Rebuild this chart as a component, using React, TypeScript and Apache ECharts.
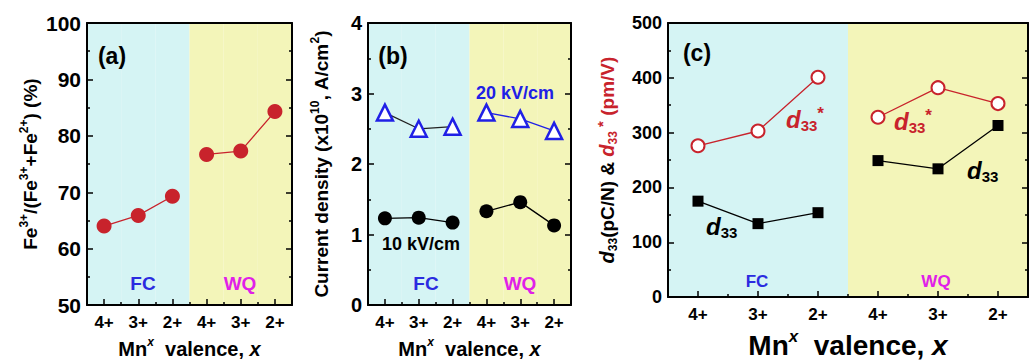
import React, { useEffect, useRef } from "react";
import * as echarts from "echarts";

const valence = ["4+", "3+", "2+", "4+", "3+", "2+"];
const feRatio = [64.0, 65.9, 69.3, 76.7, 77.3, 84.3];
const current20 = [2.73, 2.5, 2.53, 2.73, 2.64, 2.47];
const current10 = [1.23, 1.24, 1.17, 1.33, 1.46, 1.13];
const d33Star = [276, 303, 401, 328, 382, 353];
const d33 = [175, 134, 154, 249, 234, 313];

const FONT = '"Liberation Sans", Arial, sans-serif';
const CYAN = "#D5F4F4";
const YELLOW = "#F3F5B9";
const RED = "#C8232C";
const BLUE = "#2020E6";

const part = (arr: number[], start: number) =>
  arr.map((v, i) => (i >= start && i < start + 3 ? v : "-"));

const grids = [
  { left: 87, top: 23, width: 205, height: 283 },
  { left: 368, top: 23, width: 203, height: 283 },
  { left: 668, top: 23, width: 360, height: 283 },
];

function xAxesFor(g: number, nameSize: number, nameGap: number) {
  const rich = {
    n: { fontSize: nameSize, fontWeight: "bold", color: "#000", fontFamily: FONT, lineHeight: nameSize + 6 },
    s: { fontSize: Math.round(nameSize * 0.62), fontWeight: "bold", fontStyle: "italic", color: "#000", fontFamily: FONT, verticalAlign: "top", lineHeight: Math.round(nameSize * 0.62) },
    i: { fontSize: nameSize, fontWeight: "bold", fontStyle: "italic", color: "#000", fontFamily: FONT, lineHeight: nameSize + 6 },
  };
  return [
    {
      type: "category", gridIndex: g, data: valence, position: "bottom", boundaryGap: true,
      axisLine: { show: true, lineStyle: { color: "#000", width: 2 } },
      axisTick: { show: true, alignWithLabel: true, inside: true, length: 6, lineStyle: { color: "#000", width: 1.5 } },
      axisLabel: { show: true, interval: 0, fontSize: 17, fontWeight: "bold", color: "#000", fontFamily: FONT, margin: 9 },
      splitLine: { show: false },
      splitArea: { show: true, interval: 0, areaStyle: { color: [CYAN, CYAN, CYAN, YELLOW, YELLOW, YELLOW] } },
      name: "{n|Mn}{s|x}{n|  valence, }{i|x}",
      nameLocation: "middle", nameGap, nameTextStyle: { rich },
    },
    {
      type: "category", gridIndex: g, data: valence, position: "bottom", boundaryGap: true,
      axisLine: { show: false },
      axisTick: { show: true, alignWithLabel: false, inside: true, interval: 0, length: 3, lineStyle: { color: "#000", width: 1.5 } },
      axisLabel: { show: false }, splitLine: { show: false }, splitArea: { show: false },
    },
    {
      type: "category", gridIndex: g, data: valence, position: "top", boundaryGap: true,
      axisLine: { show: true, lineStyle: { color: "#000", width: 2 } },
      axisTick: { show: false }, axisLabel: { show: false }, splitLine: { show: false }, splitArea: { show: false },
    },
  ];
}

function yAxesFor(g: number, min: number, max: number, interval: number, labelSize: number, name: string, nameGap: number, rich: any) {
  const common = {
    type: "value", gridIndex: g, min, max, interval,
    axisLine: { show: true, lineStyle: { color: "#000", width: 2 } },
    axisTick: { show: true, inside: true, length: 6, lineStyle: { color: "#000", width: 1.5 } },
    minorTick: { show: true, splitNumber: 2, length: 3, lineStyle: { color: "#000", width: 1.5 } },
    splitLine: { show: false },
  };
  return [
    {
      ...common, position: "left",
      axisLabel: { show: true, fontSize: labelSize, fontWeight: "bold", color: "#000", fontFamily: FONT, margin: 6 },
      name, nameLocation: "middle", nameRotate: 90, nameGap, nameTextStyle: { rich },
    },
    { ...common, position: "right", axisLabel: { show: false } },
  ];
}

const t = (size: number, color = "#000", extra: any = {}) => ({
  fontSize: size, fontWeight: "bold", color, fontFamily: FONT, ...extra,
});

const richA = {
  n: t(19, "#000", { lineHeight: 24 }),
  s: t(12, "#000", { verticalAlign: "top", lineHeight: 12 }),
};
const richB = {
  n: t(19, "#000", { lineHeight: 24 }),
  s: t(12, "#000", { verticalAlign: "top", lineHeight: 12 }),
};
const richC = {
  n: t(19, "#000", { lineHeight: 24 }),
  i: t(20, "#000", { fontStyle: "italic", lineHeight: 24 }),
  sub: t(12, "#000", { verticalAlign: "bottom", lineHeight: 12 }),
  ri: t(20, RED, { fontStyle: "italic", lineHeight: 24 }),
  rsub: t(12, RED, { verticalAlign: "bottom", lineHeight: 12 }),
  rsup: t(15, RED, { verticalAlign: "top", lineHeight: 15 }),
  r: t(19, RED, { lineHeight: 24 }),
};

function lineSeries(g: number, data: any[], symbol: string, size: number, itemStyle: any, lineColor: string, z = 3) {
  return {
    type: "line", xAxisIndex: g * 3, yAxisIndex: g * 2, data, symbol, symbolSize: size,
    showSymbol: true, connectNulls: false, z,
    lineStyle: { color: lineColor, width: 1.3 },
    itemStyle: { ...itemStyle, opacity: 1 },
  };
}

function textEl(x: number, y: number, text: string, size: number, color: string) {
  return {
    type: "text", x, y, z: 100,
    style: { text, font: `bold ${size}px ${FONT}`, fill: color, align: "center", verticalAlign: "middle" },
  };
}

const dRich = (color: string) => ({
  d: { font: `italic bold 24px ${FONT}`, fill: color, lineHeight: 28 },
  sub: { font: `bold 15px ${FONT}`, fill: color, verticalAlign: "bottom", lineHeight: 15 },
  sup: { font: `bold 17px ${FONT}`, fill: color, verticalAlign: "top", lineHeight: 17 },
});

function dLabel(x: number, y: number, color: string, star: boolean) {
  return {
    type: "text", x, y, z: 100,
    style: {
      text: star ? "{d|d}{sub|33}{sup|*}" : "{d|d}{sub|33}",
      rich: dRich(color), align: "left", verticalAlign: "middle",
    },
  };
}

export default function App() {
  const ref = useRef<HTMLDivElement>(null);
  useEffect(() => {
    if (!ref.current) return;
    const chart = echarts.init(ref.current, null, { renderer: "svg" });
    const option: any = {
      animation: false,
      backgroundColor: "#fff",
      grid: grids,
      xAxis: [...xAxesFor(0, 20, 30), ...xAxesFor(1, 20, 30), ...xAxesFor(2, 28, 24)],
      yAxis: [
        ...yAxesFor(0, 50, 100, 10, 21, "{n|Fe}{s|3+}{n|/(Fe}{s|3+}{n|+Fe}{s|2+}{n|) (%)}", 45, richA),
        ...yAxesFor(1, 0, 4, 1, 20, "{n|Current density (x10}{s|10}{n|, A/cm}{s|2}{n|)}", 35, richB),
        ...yAxesFor(2, 0, 500, 100, 18, "{i|d}{sub|33}{n|(pC/N) & }{ri|d}{rsub|33}{rsup| *}{r| (pm/V)}", 49, richC),
      ],
      series: [
        lineSeries(0, part(feRatio, 0), "circle", 15, { color: RED }, RED),
        lineSeries(0, part(feRatio, 3), "circle", 15, { color: RED }, RED),
        lineSeries(1, part(current20, 0), "triangle", 16, { color: "#fff", borderColor: BLUE, borderWidth: 2.5 }, "#222"),
        lineSeries(1, part(current20, 3), "triangle", 16, { color: "#fff", borderColor: BLUE, borderWidth: 2.5 }, BLUE),
        lineSeries(1, part(current10, 0), "circle", 14, { color: "#000" }, "#000"),
        lineSeries(1, part(current10, 3), "circle", 14, { color: "#000" }, "#000"),
        lineSeries(2, part(d33Star, 0), "circle", 13, { color: "#fff", borderColor: RED, borderWidth: 2 }, RED),
        lineSeries(2, part(d33Star, 3), "circle", 13, { color: "#fff", borderColor: RED, borderWidth: 2 }, RED),
        lineSeries(2, part(d33, 0), "rect", 11, { color: "#000" }, "#000"),
        lineSeries(2, part(d33, 3), "rect", 11, { color: "#000" }, "#000"),
      ],
      graphic: [
        textEl(112, 56, "(a)", 23, "#000"),
        textEl(393, 56, "(b)", 23, "#000"),
        textEl(697, 53, "(c)", 23, "#000"),
        textEl(143, 283, "FC", 19, "#2B2BE0"),
        textEl(240, 283, "WQ", 19, "#E020E8"),
        textEl(426, 283, "FC", 19, "#2B2BE0"),
        textEl(520, 283, "WQ", 19, "#E020E8"),
        textEl(757, 281, "FC", 17, "#2B2BE0"),
        textEl(936, 281, "WQ", 17, "#E020E8"),
        textEl(515, 93, "20 kV/cm", 18, BLUE),
        textEl(421, 244, "10 kV/cm", 18, "#000"),
        dLabel(786, 119, RED, true),
        dLabel(894, 121, RED, true),
        dLabel(706, 226, "#000", false),
        dLabel(967, 170, "#000", false),
      ],
    };
    chart.setOption(option);
    return () => chart.dispose();
  }, []);
  return (
    <div
      ref={ref}
      style={{ position: "fixed", left: 0, top: 0, width: 1036, height: 364 }}
    />
  );
}
